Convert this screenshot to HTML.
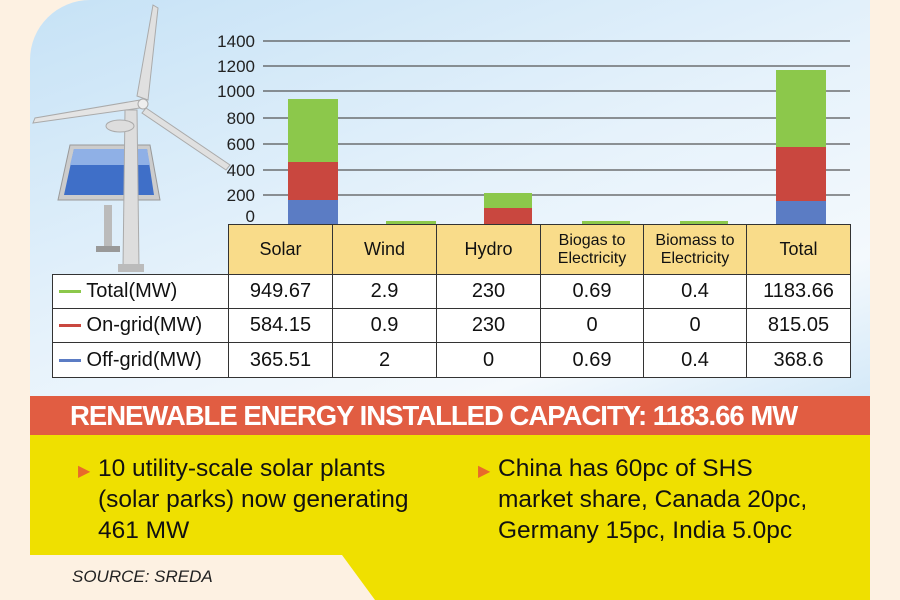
<!DOCTYPE html><html><head><style>
body{margin:0;width:900px;height:600px;overflow:hidden;background:#fdf1e2;font-family:"Liberation Sans",sans-serif;position:relative}
.p{position:absolute}
table{border-collapse:collapse;position:absolute;table-layout:fixed}
td{border:1.3px solid #333;text-align:center;font-size:20px;color:#111;padding:0;white-space:nowrap}
</style></head><body>
<div class="p" style="left:30px;top:0;width:840px;height:396px;border-top-left-radius:60px;background:linear-gradient(160deg,#c6e2f6 0%,#e6f2fb 50%,#f4f9fd 80%,#d4e9f8 100%)"></div>
<svg class="p" style="left:0;top:0" width="900" height="400">
<g stroke="#555" stroke-width="1.2">
<line x1="263" y1="41" x2="850" y2="41"/><line x1="263" y1="66" x2="850" y2="66"/><line x1="263" y1="91" x2="850" y2="91"/><line x1="263" y1="118" x2="850" y2="118"/><line x1="263" y1="144" x2="850" y2="144"/><line x1="263" y1="170" x2="850" y2="170"/><line x1="263" y1="195" x2="850" y2="195"/></g>
<g font-size="17" fill="#222" text-anchor="end">
<text x="255" y="47">1400</text><text x="255" y="72">1200</text><text x="255" y="97">1000</text><text x="255" y="124">800</text><text x="255" y="150">600</text><text x="255" y="176">400</text><text x="255" y="201">200</text><text x="255" y="222">0</text></g>
<rect x="288" y="99" width="50" height="63" fill="#8cc84b"/><rect x="288" y="162" width="50" height="38" fill="#c9473f"/><rect x="288" y="200" width="50" height="24" fill="#5b7cc4"/>
<rect x="386" y="221" width="50" height="3" fill="#8cc84b"/>
<rect x="484" y="193" width="48" height="15" fill="#8cc84b"/><rect x="484" y="208" width="48" height="16" fill="#c9473f"/>
<rect x="582" y="221" width="48" height="3" fill="#8cc84b"/><rect x="680" y="221" width="48" height="3" fill="#8cc84b"/>
<rect x="776" y="70" width="50" height="77" fill="#8cc84b"/><rect x="776" y="147" width="50" height="54" fill="#c9473f"/><rect x="776" y="201" width="50" height="23" fill="#5b7cc4"/>
<rect x="104" y="205" width="8" height="45" fill="#bbb"/><rect x="96" y="246" width="24" height="6" fill="#999"/>
<polygon points="70,145 150,145 160,200 58,200" fill="#ccc" stroke="#999"/>
<polygon points="74,149 147,149 154,195 64,195" fill="#3f6fc8"/>
<polygon points="74,149 147,149 150,165 70,165" fill="#8fb0e6"/>
<polygon points="125,110 137,110 139,268 123,268" fill="#ddd" stroke="#aaa"/>
<rect x="118" y="264" width="26" height="8" fill="#bbb"/>
<polygon points="153,5 158,8 148,100 137,96" fill="#e0e0e0" stroke="#aaa"/>
<polygon points="140,100 35,118 33,123 140,108" fill="#e4e4e4" stroke="#aaa"/>
<polygon points="146,108 230,165 226,170 142,113" fill="#e0e0e0" stroke="#aaa"/>
<ellipse cx="120" cy="126" rx="14" ry="6" fill="#ddd" stroke="#aaa"/>
<circle cx="143" cy="104" r="5" fill="#eee" stroke="#aaa"/>
</svg>
<table style="left:228px;top:224px;width:622px;background:#f9dc8a">
<colgroup><col style="width:104px"><col style="width:104px"><col style="width:104px"><col style="width:103px"><col style="width:103px"><col style="width:104px"></colgroup>
<tr style="height:50px"><td style="font-size:18px">Solar</td><td style="font-size:18px">Wind</td><td style="font-size:18px">Hydro</td><td style="font-size:16px">Biogas to<br>Electricity</td><td style="font-size:16px">Biomass to<br>Electricity</td><td style="font-size:18px">Total</td></tr></table>
<table style="left:52px;top:274px;width:798px;background:#fff">
<colgroup><col style="width:176px"><col style="width:104px"><col style="width:104px"><col style="width:104px"><col style="width:103px"><col style="width:103px"><col style="width:104px"></colgroup>
<tr style="height:34px"><td style="text-align:left;padding-left:6px"><span style="display:inline-block;width:22px;height:3px;background:#8cc84b;vertical-align:middle"></span> Total(MW)</td><td>949.67</td><td>2.9</td><td>230</td><td>0.69</td><td>0.4</td><td>1183.66</td></tr>
<tr style="height:34px"><td style="text-align:left;padding-left:6px"><span style="display:inline-block;width:22px;height:3px;background:#c9473f;vertical-align:middle"></span> On-grid(MW)</td><td>584.15</td><td>0.9</td><td>230</td><td>0</td><td>0</td><td>815.05</td></tr>
<tr style="height:35px"><td style="text-align:left;padding-left:6px"><span style="display:inline-block;width:22px;height:3px;background:#5b7cc4;vertical-align:middle"></span> Off-grid(MW)</td><td>365.51</td><td>2</td><td>0</td><td>0.69</td><td>0.4</td><td>368.6</td></tr></table>
<div class="p" style="left:30px;top:396px;width:840px;height:39px;background:#e15d42;color:#fff;font-weight:bold;font-size:27.5px;line-height:39px;white-space:nowrap"><span style="padding-left:40px;letter-spacing:-1px">RENEWABLE ENERGY INSTALLED CAPACITY: 1183.66 MW</span></div>
<div class="p" style="left:30px;top:435px;width:840px;height:165px;background:#efe000"></div>
<svg class="p" style="left:30px;top:555px" width="350" height="45"><polygon points="0,0 312,0 345,45 0,45" fill="#fdf1e2"/></svg>
<div class="p" style="left:72px;top:567px;font-size:17px;font-style:italic;color:#222">SOURCE: SREDA</div>
<div class="p" style="left:78px;top:453px;font-size:24.5px;line-height:31px;color:#111;width:400px;white-space:nowrap"><span style="position:absolute;left:0;top:3px;color:#e86a2a;font-size:16px">▶</span><div style="padding-left:20px">10 utility-scale solar plants<br>(solar parks) now generating<br>461 MW</div></div>
<div class="p" style="left:478px;top:453px;font-size:24.5px;line-height:31px;color:#111;width:390px;white-space:nowrap"><span style="position:absolute;left:0;top:3px;color:#e86a2a;font-size:16px">▶</span><div style="padding-left:20px">China has 60pc of SHS<br>market share, Canada 20pc,<br>Germany 15pc, India 5.0pc</div></div>
</body></html>
